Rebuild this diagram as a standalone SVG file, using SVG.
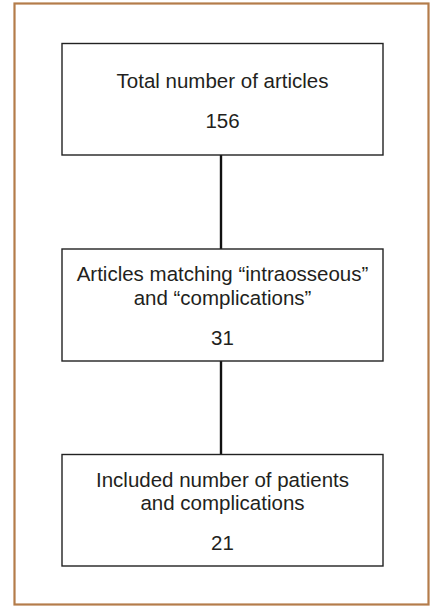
<svg xmlns="http://www.w3.org/2000/svg" width="435" height="607" viewBox="0 0 435 607">
<style>
.frame{fill:#fff;stroke:#b47c4a;stroke-width:2.2}
.box{fill:#fff;stroke:#222;stroke-width:1.4}
.t{font-family:"Liberation Sans",Arial,Helvetica,sans-serif;font-size:20.5px;fill:#231f20;text-anchor:middle}
.conn{stroke:#111;stroke-width:2.4;fill:none}
</style>
<rect class="frame" x="14.5" y="3.5" width="414" height="601"/>
<g id="connectors">
<line class="conn" x1="221" y1="155" x2="221" y2="249"/>
<line class="conn" x1="221" y1="361" x2="221" y2="454"/>
</g>
<g id="n1">
<rect class="box" x="62" y="43.5" width="321" height="111.5"/>
<text class="t" x="222.5" y="87.5">Total number of articles</text>
<text class="t" x="222.5" y="127.5">156</text>
</g>
<g id="n2">
<rect class="box" x="62" y="249" width="321" height="112"/>
<text class="t" x="222.5" y="281">Articles matching “intraosseous”</text>
<text class="t" x="222.5" y="305">and “complications”</text>
<text class="t" x="222.5" y="345">31</text>
</g>
<g id="n3">
<rect class="box" x="62" y="454.5" width="321" height="111.5"/>
<text class="t" x="222.5" y="486.5">Included number of patients</text>
<text class="t" x="222.5" y="510">and complications</text>
<text class="t" x="222.5" y="550">21</text>
</g>
</svg>
